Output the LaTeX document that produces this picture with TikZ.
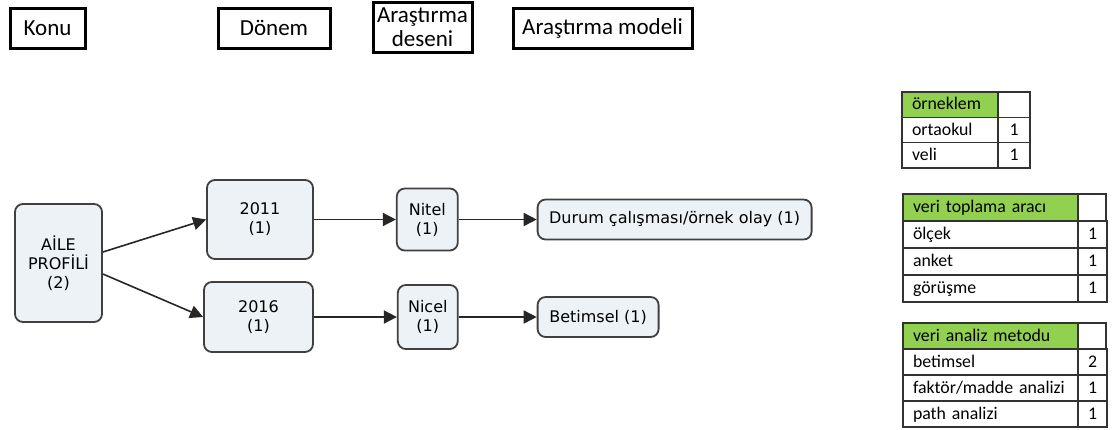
\documentclass[tikz,border=0pt]{standalone}
\usepackage{fontspec}
\setmainfont{Carlito}
\newfontfamily\verdfont{DejaVu Sans}
\usetikzlibrary{positioning, arrows.meta}
\definecolor{boxfill}{RGB}{236,242,246}
\definecolor{boxline}{RGB}{64,64,64}
\definecolor{headgreen}{RGB}{146,208,80}

\begin{document}
\begin{tikzpicture}[x=0.5pt, y=-0.5pt,
  title/.style={draw=black, line width=1.5pt, minimum height=20pt, inner sep=2pt, align=center,
                font=\fontsize{11.5}{12}\selectfont},
  flow/.style={draw=boxline, fill=boxfill, rounded corners=4pt, line width=0.9pt, align=center,
               inner sep=2pt, font=\verdfont\fontsize{8}{9.5}\selectfont},
  arr/.style={-{Triangle[length=6.5pt, width=6.5pt]}, line width=0.8pt, color=black!85},
  cell/.style={draw=black!80, line width=0.55pt, outer sep=0pt, inner xsep=5pt, inner ysep=0pt,
               text height=0.72em, text depth=0.22em, font=\fontsize{8.9}{10}\selectfont},
  namecell/.style={cell, text width=#1, align=left},
  numcell/.style={cell, minimum width=#1, align=center},
]
\useasboundingbox (0,0) rectangle (1112,429);

% Column titles
\node[title, minimum width=37.5pt] (konu) at (47.5,28) {Konu};
\node[title, minimum width=56pt] (donem) at (274,28) {Dönem};
\node[title, minimum width=49.5pt, minimum height=25pt] (desen) at (422.5,27) {Araştırma\\deseni};
\node[title, minimum width=89.5pt] (model) at (602.5,28) {Araştırma modeli};

% Topic
\node[flow, minimum width=43.5pt, minimum height=59pt] (aile) at (58.5,263) {AİLE\\PROFİLİ\\(2)};

% Upper branch
\node[flow, minimum width=53pt, minimum height=39.5pt] (y2011) at (260,219.5) {2011\\(1)};
\node[flow, minimum width=30.5pt, minimum height=31pt, right=41pt of y2011] (nitel) {Nitel\\(1)};
\node[flow, minimum width=137pt, minimum height=20pt, right=39pt of nitel] (durum) {Durum çalışması/örnek olay (1)};

% Lower branch
\node[flow, minimum width=54.5pt, minimum height=35pt] (y2016) at (258.5,317) {2016\\(1)};
\node[flow, minimum width=30pt, minimum height=32pt, right=41.5pt of y2016] (nicel) {Nicel\\(1)};
\node[flow, minimum width=60.5pt, minimum height=20pt, right=39pt of nicel] (betim) {Betimsel (1)};

% Arrows
\draw[arr] ([yshift=5.5pt]aile.east) -- (y2011.west);
\draw[arr] ([yshift=-5.5pt]aile.east) -- (y2016.west);
\draw[arr] (y2011) -- (nitel);
\draw[arr] (nitel) -- (durum);
\draw[arr] (y2016) -- (nicel);
\draw[arr] (nicel) -- (betim);

% Sample table
\begin{scope}[cell/.append style={minimum height=12.67pt}]
\node[namecell=38pt, fill=headgreen, anchor=north west] (orn) at (902,92) {örneklem};
\node[numcell=16pt, right=0pt of orn] (ornv) {};
\node[namecell=38pt, below=0pt of orn] (orn1) {ortaokul};
\node[numcell=16pt, right=0pt of orn1] (orn1v) {1};
\node[namecell=38pt, below=0pt of orn1] (orn2) {veli};
\node[numcell=16pt, right=0pt of orn2] (orn2v) {1};
\end{scope}

% Data collection table
\begin{scope}[cell/.append style={minimum height=13.5pt}]
\node[namecell=77.5pt, fill=headgreen, anchor=north west] (arac) at (903,194) {veri toplama aracı};
\node[numcell=14pt, right=0pt of arac] (aracv) {};
\node[namecell=77.5pt, below=0pt of arac] (arac1) {ölçek};
\node[numcell=14pt, right=0pt of arac1] (arac1v) {1};
\node[namecell=77.5pt, below=0pt of arac1] (arac2) {anket};
\node[numcell=14pt, right=0pt of arac2] (arac2v) {1};
\node[namecell=77.5pt, below=0pt of arac2] (arac3) {görüşme};
\node[numcell=14pt, right=0pt of arac3] (arac3v) {1};
\end{scope}

% Analysis table
\begin{scope}[cell/.append style={minimum height=13pt}]
\node[namecell=77.5pt, fill=headgreen, anchor=north west] (anl) at (903,323) {veri analiz metodu};
\node[numcell=14pt, right=0pt of anl] (anlv) {};
\node[namecell=77.5pt, below=0pt of anl] (anl1) {betimsel};
\node[numcell=14pt, right=0pt of anl1] (anl1v) {2};
\node[namecell=77.5pt, below=0pt of anl1] (anl2) {faktör/madde analizi};
\node[numcell=14pt, right=0pt of anl2] (anl2v) {1};
\node[namecell=77.5pt, below=0pt of anl2] (anl3) {path analizi};
\node[numcell=14pt, right=0pt of anl3] (anl3v) {1};
\end{scope}

\end{tikzpicture}
\end{document}
